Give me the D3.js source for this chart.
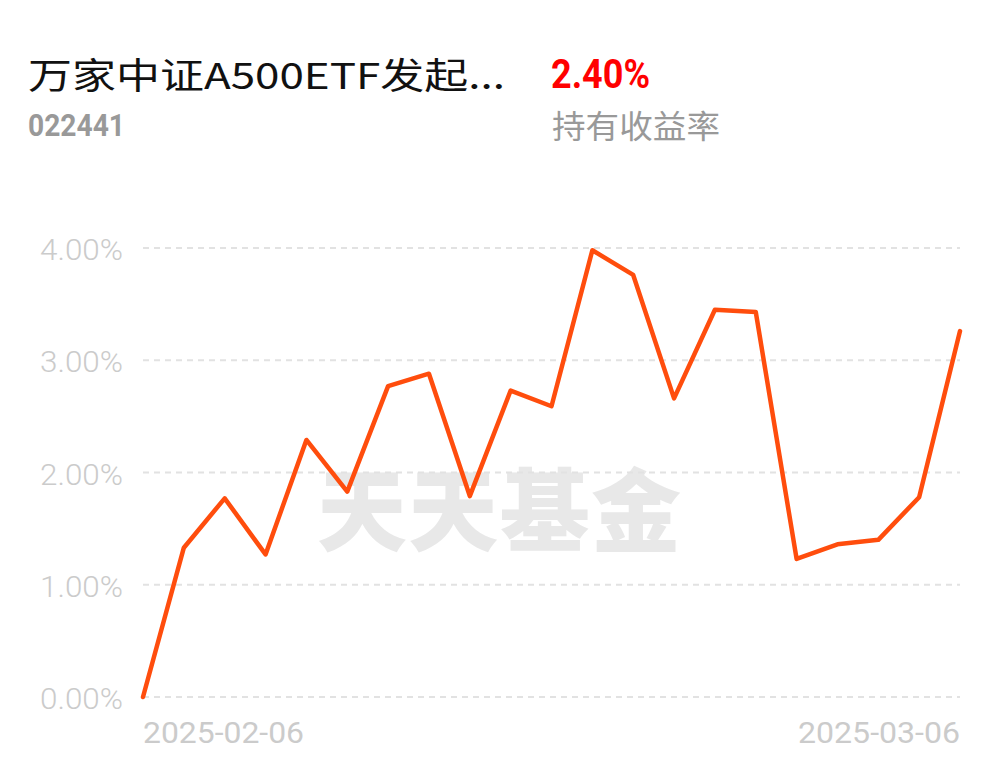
<!DOCTYPE html>
<html><head><meta charset="utf-8">
<script src="https://cdn.jsdelivr.net/npm/d3@7/dist/d3.min.js"></script>
<style>body{margin:0;background:#fff;}svg{display:block;}</style>
</head><body>
<svg id="c" width="1001" height="766"></svg>
<script>
const dates = ["2025-02-06","2025-02-07","2025-02-10","2025-02-11","2025-02-12","2025-02-13","2025-02-14","2025-02-17","2025-02-18","2025-02-19","2025-02-20","2025-02-21","2025-02-24","2025-02-25","2025-02-26","2025-02-27","2025-02-28","2025-03-03","2025-03-04","2025-03-05","2025-03-06"];
const returns = [0.00,1.33,1.77,1.27,2.29,1.83,2.77,2.88,1.79,2.73,2.59,3.98,3.76,2.66,3.45,3.43,1.23,1.36,1.40,1.78,3.26];
const yTicks = [0,1,2,3,4];
const xLabels = ["2025-02-06","2025-03-06"];
const fundName = "万家中证A500ETF发起...";
const fundCode = "022441";
const holdReturn = "2.40%";
const holdLabel = "持有收益率";
const watermark = "天天基金";

const svg = d3.select("#c");
const font = "'Noto Sans CJK SC','Noto Sans',sans-serif";
const x = d3.scalePoint().domain(dates).range([143, 960]);
const y = d3.scaleLinear().domain([0,4]).range([697, 248]);

// header
svg.append("text").attr("x",28).attr("y",89).attr("font-family",font).attr("font-size",36).attr("fill","#111")
  .attr("textLength",477).attr("lengthAdjust","spacingAndGlyphs").text(fundName);
svg.append("text").attr("x",28).attr("y",136).attr("font-family","Roboto,sans-serif").attr("font-weight","bold").attr("font-size",32).attr("fill","#999")
  .attr("textLength",97).attr("lengthAdjust","spacingAndGlyphs").text(fundCode);
svg.append("text").attr("x",551).attr("y",88).attr("font-family","Roboto,sans-serif").attr("font-weight","bold").attr("font-size",41).attr("fill","#f00")
  .attr("textLength",99).attr("lengthAdjust","spacingAndGlyphs").text(holdReturn);
svg.append("text").attr("x",552).attr("y",138).attr("font-family",font).attr("font-size",32).attr("fill","#999")
  .attr("textLength",168).attr("lengthAdjust","spacingAndGlyphs").text(holdLabel);

// watermark
svg.append("text").attr("x",499).attr("y",544).attr("text-anchor","middle").attr("font-family",font).attr("font-weight","900").attr("font-size",90).attr("fill","#e8e8e8").attr("textLength",364).text(watermark);

// grid
const g = svg.append("g");
g.selectAll("line.grid").data(yTicks).join("line")
  .attr("x1",143).attr("x2",960)
  .attr("y1",d=>y(d)).attr("y2",d=>y(d))
  .attr("stroke","#e2e2e2").attr("stroke-width",2).attr("stroke-dasharray","6,5");
g.selectAll("text.yl").data(yTicks).join("text")
  .attr("x",123).attr("y",d=>y(d)+12).attr("text-anchor","end")
  .attr("font-family","Roboto,sans-serif").attr("font-weight","300").attr("font-size",29).attr("fill","#cbcbcb")
  .attr("textLength",83).attr("lengthAdjust","spacingAndGlyphs")
  .text(d=>d.toFixed(2)+"%");

// x labels
svg.append("text").attr("x",x(xLabels[0])).attr("y",743).attr("text-anchor","start")
  .attr("font-family","Roboto,sans-serif").attr("font-size",29).attr("fill","#cbcbcb")
  .attr("textLength",161).attr("lengthAdjust","spacingAndGlyphs").text(xLabels[0]);
svg.append("text").attr("x",x(xLabels[1])).attr("y",743).attr("text-anchor","end")
  .attr("font-family","Roboto,sans-serif").attr("font-size",29).attr("fill","#cbcbcb")
  .attr("textLength",162).attr("lengthAdjust","spacingAndGlyphs").text(xLabels[1]);

// line
const line = d3.line().x((d,i)=>x(dates[i])).y(d=>y(d));
svg.append("path").datum(returns).attr("d",line).attr("fill","none")
  .attr("stroke","#ff4d0d").attr("stroke-width",4.5).attr("stroke-linejoin","round").attr("stroke-linecap","round");
</script>
</body></html>
